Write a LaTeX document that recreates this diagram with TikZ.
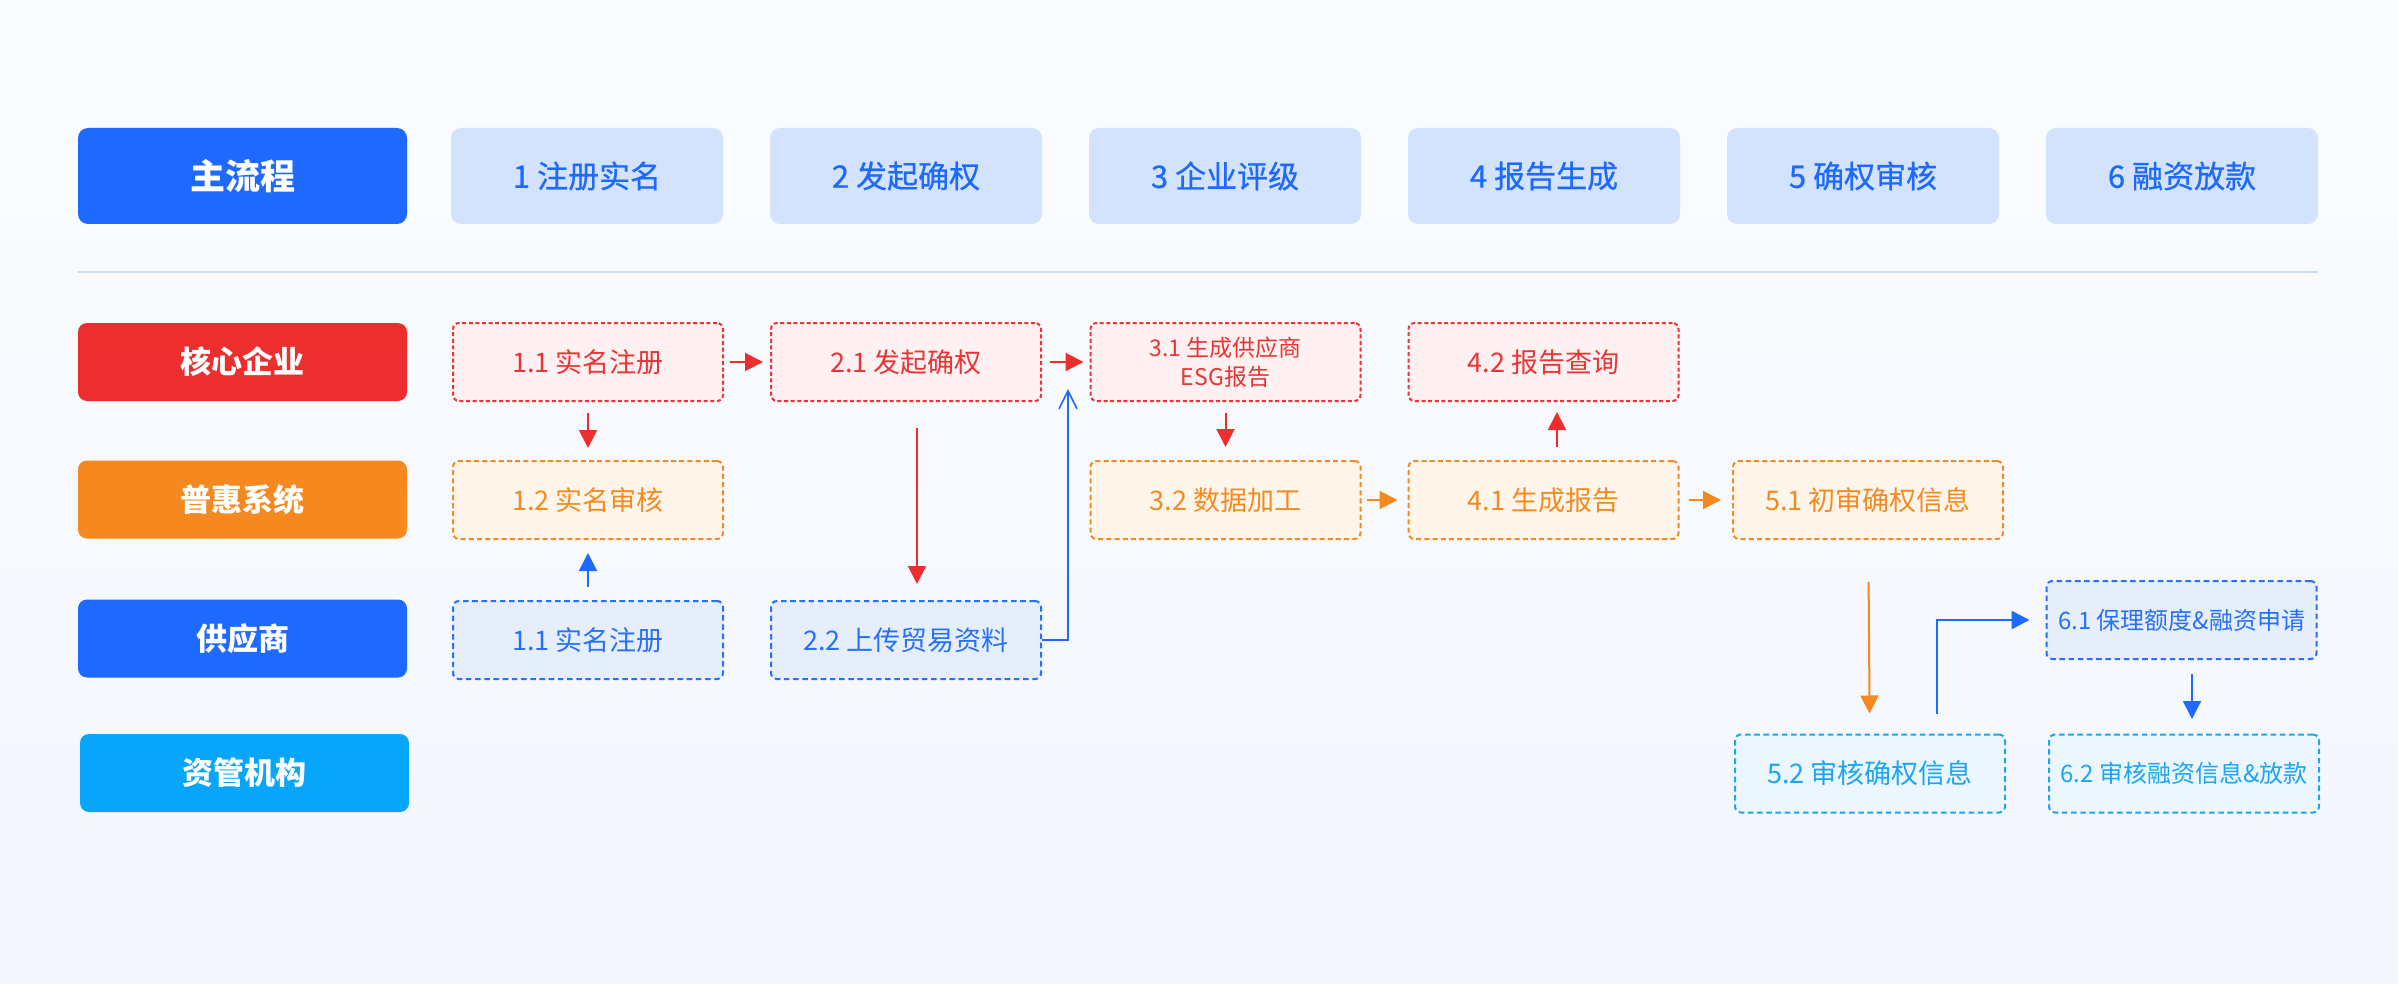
\documentclass[tikz,border=0pt]{standalone}
\usepackage{fontspec}
\setmainfont{Noto Sans CJK SC}
\newfontfamily\medfont{Noto Sans CJK SC}[FakeBold=0.7]
\usetikzlibrary{arrows.meta}
\definecolor{mainblue}{HTML}{1E6AFF}
\definecolor{cred}{HTML}{EC2E2E}
\definecolor{corange}{HTML}{F5891F}
\definecolor{ccyan}{HTML}{08A6FB}
\definecolor{headfill}{HTML}{D4E3FD}
\definecolor{redfill}{HTML}{FFF1F1}
\definecolor{redline}{HTML}{E93535}
\definecolor{orfill}{HTML}{FFF5EA}
\definecolor{orline}{HTML}{F28B22}
\definecolor{bluefill}{HTML}{E6EEFC}
\definecolor{blueline}{HTML}{2770FA}
\definecolor{cyanfill}{HTML}{EBF6FE}
\definecolor{cyanline}{HTML}{1CA5F3}
\definecolor{sepcol}{HTML}{C9DAF8}
\definecolor{bgtop}{HTML}{FAFCFF}
\definecolor{bgbot}{HTML}{F3F6FD}
\begin{document}
\begin{tikzpicture}[x=0.5pt,y=-0.5pt,
  lane/.style={rounded corners=4.5pt, minimum width=164.5pt, minimum height=39pt, inner sep=0pt, text=white, font=\fontsize{15.5}{18}\selectfont\bfseries},
  head/.style={rounded corners=5pt, fill=headfill, text=mainblue, minimum width=136pt, minimum height=48pt, inner sep=0pt, font=\fontsize{15.5}{18}\medfont},
  box/.style={rounded corners=3pt, line width=1pt, minimum width=135pt, minimum height=39pt, inner sep=0pt, font=\fontsize{13.5}{16}\selectfont, align=center},
  redbox/.style={box, draw=redline, fill=redfill, text=redline, dash pattern=on 2pt off 1.3pt},
  orbox/.style={box, draw=orline, fill=orfill, text=orline, dash pattern=on 2.5pt off 1.6pt},
  bluebox/.style={box, draw=blueline, fill=bluefill, text=blueline, dash pattern=on 2.8pt off 1.8pt},
  cyanbox/.style={box, draw=cyanline, fill=cyanfill, text=cyanline, dash pattern=on 2.8pt off 1.8pt},
  arr/.style={line width=1pt, -{Triangle[length=9pt,width=9pt]}},
  openarr/.style={line width=1pt, -{Straight Barb[length=9pt,width=9pt,line width=0.8pt]}},
]
\shade[top color=bgtop, bottom color=bgbot] (0,0) rectangle (2398,984);

% header row
\node[lane, rounded corners=5pt, fill=mainblue, minimum height=48pt, font=\fontsize{17.5}{20}\selectfont\bfseries] (main) at (242.5,176) {主流程};
\node[head] (s1) at (587,176) {1 注册实名};
\node[head] (s2) at (906,176) {2 发起确权};
\node[head] (s3) at (1225,176) {3 企业评级};
\node[head] (s4) at (1544,176) {4 报告生成};
\node[head] (s5) at (1863,176) {5 确权审核};
\node[head] (s6) at (2182,176) {6 融资放款};

\draw[sepcol, line width=1pt] (78,272) -- (2318,272);

% lanes
\node[lane, fill=cred] (l1) at (242.5,362) {核心企业};
\node[lane, fill=corange] (l2) at (242.5,499.5) {普惠系统};
\node[lane, fill=mainblue] (l3) at (242.5,638.5) {供应商};
\node[lane, fill=ccyan] (l4) at (244.5,773) {资管机构};

% boxes
\node[redbox] (a11) at (588,362) {1.1 实名注册};
\node[redbox] (a21) at (906,362) {2.1 发起确权};
\node[redbox, font=\fontsize{11.5}{14.5}\selectfont] (a31) at (1225.5,362) {3.1 生成供应商\\ESG报告};
\node[redbox] (a42) at (1543.5,362) {4.2 报告查询};
\node[orbox] (b12) at (588,500) {1.2 实名审核};
\node[orbox] (b32) at (1225.5,500) {3.2 数据加工};
\node[orbox] (b41) at (1543.5,500) {4.1 生成报告};
\node[orbox] (b51) at (1868,500) {5.1 初审确权信息};
\node[bluebox] (c11) at (588,640) {1.1 实名注册};
\node[bluebox] (c22) at (906,640) {2.2 上传贸易资料};
\node[bluebox, font=\fontsize{12}{14}\selectfont] (c61) at (2181.5,620) {6.1 保理额度\&融资申请};
\node[cyanbox] (d52) at (1870,773.5) {5.2 审核确权信息};
\node[cyanbox, font=\fontsize{12}{14}\selectfont] (d62) at (2184,773.5) {6.2 审核融资信息\&放款};

% helper coordinates
\coordinate (t31) at (1068,389);
\coordinate (a21d) at (917,401);
\coordinate (c22u) at (917,601);
\coordinate (b41u) at (1557,460);
\coordinate (a42d) at (1557,401);
\coordinate (u52) at (1937,714);
\coordinate (c61d) at (2192,659);
\coordinate (d62u) at (2192,734);

% connectors
\draw[arr, cred, shorten <=3pt, shorten >=3.5pt] (a11) -- (a21);
\draw[arr, cred, shorten <=4pt, shorten >=3pt] (a21) -- (a31);
\draw[arr, cred, shorten <=5.5pt, shorten >=6pt] (a11) -- (b12);
\draw[arr, cred, line width=0.9pt, shorten <=13.5pt, shorten >=8.5pt] (a21d) -- (c22u);
\draw[arr, mainblue, shorten <=6.5pt, shorten >=6.5pt] (c11) -- (b12);
\draw[openarr, mainblue] (c22.east) -| (t31);
\draw[arr, cred, shorten <=5.5pt, shorten >=6.5pt] (a31) -- (b32);
\draw[arr, cred, shorten <=6.5pt, shorten >=5.5pt] (b41u) -- (a42d);
\draw[arr, corange, shorten <=2.5pt, shorten >=5pt] (b32) -- (b41);
\draw[arr, corange, shorten <=4.5pt, shorten >=5.5pt] (b41) -- (b51);
\draw[arr, corange, shorten <=21pt, shorten >=10pt] (b51) -- (d52);
\draw[arr, mainblue, line width=1.3pt, shorten >=8pt] (u52) |- (c61);
\draw[arr, mainblue, shorten <=7.5pt, shorten >=7.5pt] (c61d) -- (d62u);
\end{tikzpicture}
\end{document}
